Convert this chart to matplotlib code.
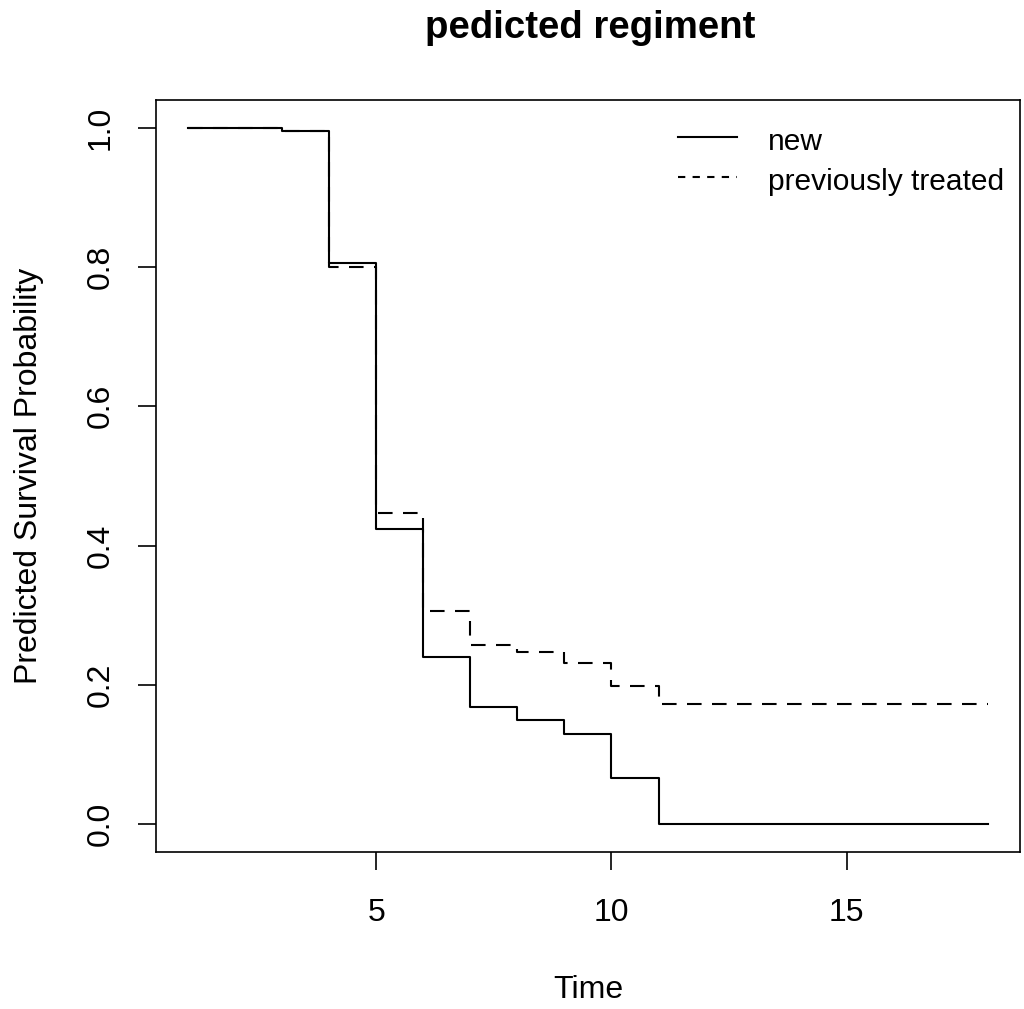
import numpy as np
import matplotlib
matplotlib.use("Agg")
import matplotlib.pyplot as plt

plt.rcParams["font.family"] = ["Liberation Sans", "DejaVu Sans"]

times = [1, 3, 4, 5, 6, 7, 8, 9, 10, 11, 18]
surv_new = [1.0, 0.995, 0.806, 0.424, 0.240, 0.168, 0.149, 0.129, 0.066, 0.0, 0.0]
surv_prev = [1.0, 0.995, 0.800, 0.447, 0.306, 0.258, 0.247, 0.232, 0.198, 0.172, 0.172]
labels = ["new", "previously treated"]

FS = 23
DASH = (0, (7, 5))

fig = plt.figure(figsize=(10.24, 10.09), dpi=100)
ax = fig.add_axes([0.1523, 0.1556, 0.8437, 0.7453])

ax.plot(times, surv_new, drawstyle="steps-post", color="black", lw=1.5)
ax.plot(times, surv_prev, drawstyle="steps-post", color="black", lw=1.5, linestyle=DASH)

ax.set_xlim(0.32, 18.68)
ax.set_ylim(-0.04, 1.04)
ax.set_xticks([5, 10, 15])
yt = np.arange(0, 1.01, 0.2)
ax.set_yticks(yt)
ax.set_yticklabels(["%.1f" % v for v in yt], rotation=90, va="center")
ax.tick_params(labelsize=FS, length=13, width=1.2, pad=16)
ax.tick_params(axis="x", pad=20)
for s in ax.spines.values():
    s.set_linewidth(1.2)

ax.set_xlabel("Time", fontsize=FS, labelpad=34)
ax.set_ylabel("Predicted Survival Probability", fontsize=FS, labelpad=30)
fig.suptitle("pedicted regiment", fontsize=27.6, fontweight="bold", x=0.576, y=0.99)

# legend drawn by hand, like R's legend(bty="n")
tr = ax.transAxes
line_y = [0.9508, 0.8976]
text_y = [0.9335, 0.8803]
ax.plot([0.604, 0.6725], [line_y[0]] * 2, transform=tr, color="black", lw=1.5)
ax.plot([0.604, 0.6725], [line_y[1]] * 2, transform=tr, color="black", lw=1.5,
        linestyle=(0, (3.5, 3.5)))
for yy, lab in zip(text_y, labels):
    ax.text(0.708, yy, lab, transform=tr, fontsize=21.5, va="baseline", ha="left")

fig.savefig("out.png", dpi=100)
